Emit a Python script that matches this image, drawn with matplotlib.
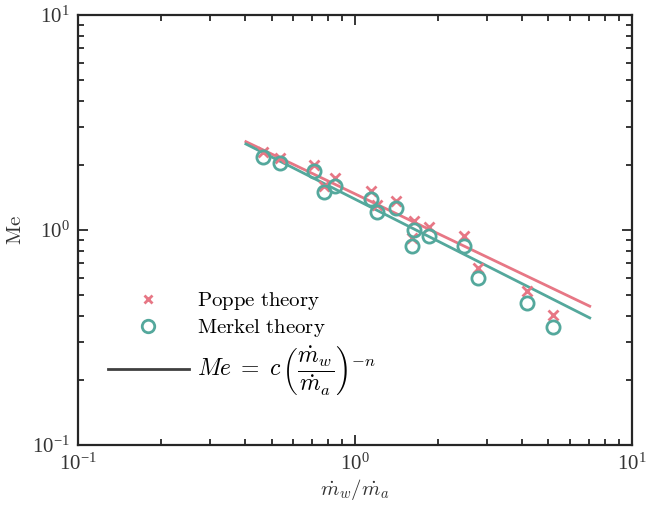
import matplotlib
matplotlib.use('Agg')
import matplotlib.pyplot as plt
from matplotlib.lines import Line2D

# -----------------------------------------------------------------------------
# data
# -----------------------------------------------------------------------------
mass_ratio = [0.464, 0.536, 0.713, 0.773, 0.849, 1.145, 1.20, 1.41,
              1.63, 1.61, 1.85, 2.48, 2.79, 4.17, 5.20]
me_poppe = [2.31, 2.16, 2.01, 1.61, 1.74, 1.52, 1.31, 1.37,
            1.10, 0.918, 1.03, 0.941, 0.664, 0.522, 0.402]
me_merkel = [2.19, 2.04, 1.89, 1.50, 1.61, 1.39, 1.21, 1.26,
             1.005, 0.84, 0.935, 0.84, 0.596, 0.457, 0.355]

# fitted power laws (straight lines on log-log), end points
fit_x = [0.404, 7.05]
fit_poppe = [2.575, 0.442]
fit_merkel = [2.512, 0.390]

PINK = '#E77785'
TEAL = '#54A89C'
DARK = '#262626'

plt.rcParams['mathtext.fontset'] = 'cm'
plt.rcParams['font.family'] = ['Liberation Serif', 'DejaVu Serif']

fig = plt.figure(figsize=(6.46, 5.13), dpi=100)
ax = fig.add_axes([0.1207, 0.1326, 0.8573, 0.8382])

ax.plot(fit_x, fit_poppe, color=PINK, lw=2.0, zorder=2)
ax.plot(fit_x, fit_merkel, color=TEAL, lw=2.0, zorder=2)
ax.plot(mass_ratio, me_poppe, ls='none', marker='x', ms=6.5, mew=2.0,
        color=PINK, zorder=3)
ax.plot(mass_ratio, me_merkel, ls='none', marker='o', ms=9.5, mew=2.0,
        mfc='none', mec=TEAL, zorder=4)

ax.set_xscale('log')
ax.set_yscale('log')
ax.set_xlim(0.1, 10)
ax.set_ylim(0.1, 10)

for sp in ax.spines.values():
    sp.set_linewidth(1.6)
    sp.set_color(DARK)
ax.tick_params(which='both', direction='in', top=True, right=True,
               color=DARK, width=1.3, labelsize=15, labelcolor='#333333')
ax.tick_params(which='major', length=7, pad=6)
ax.tick_params(which='minor', length=4)
for lab in ax.get_xticklabels() + ax.get_yticklabels():
    lab.set_math_fontfamily('stix')

ax.set_xlabel(r'$\dot{m}_w/\dot{m}_a$', fontsize=15, labelpad=2,
              color='#333333')
ax.set_ylabel(r'$\mathrm{Me}$', fontsize=15, labelpad=4, color='#333333')

handles = [
    Line2D([], [], ls='none', marker='x', ms=6, mew=2.0, color=PINK),
    Line2D([], [], ls='none', marker='o', ms=9, mew=2.0, mfc='none',
           mec=TEAL),
    Line2D([], [], color='#404040', lw=2.0),
]
labels = [r'$\mathrm{Poppe\ theory}$', r'$\mathrm{Merkel\ theory}$',
          r'$Me\;=\;c\,\left(\dfrac{\dot{m}_w}{\dot{m}_a}\right)^{-n}$']
leg = ax.legend(handles, labels, loc='upper left',
                bbox_to_anchor=(0.035, 0.385), frameon=False, fontsize=15,
                handlelength=3.9, handletextpad=0.4, borderpad=0,
                labelspacing=0.25)
leg.get_texts()[2].set_fontsize(17)

fig.savefig('out.png', dpi=100)
